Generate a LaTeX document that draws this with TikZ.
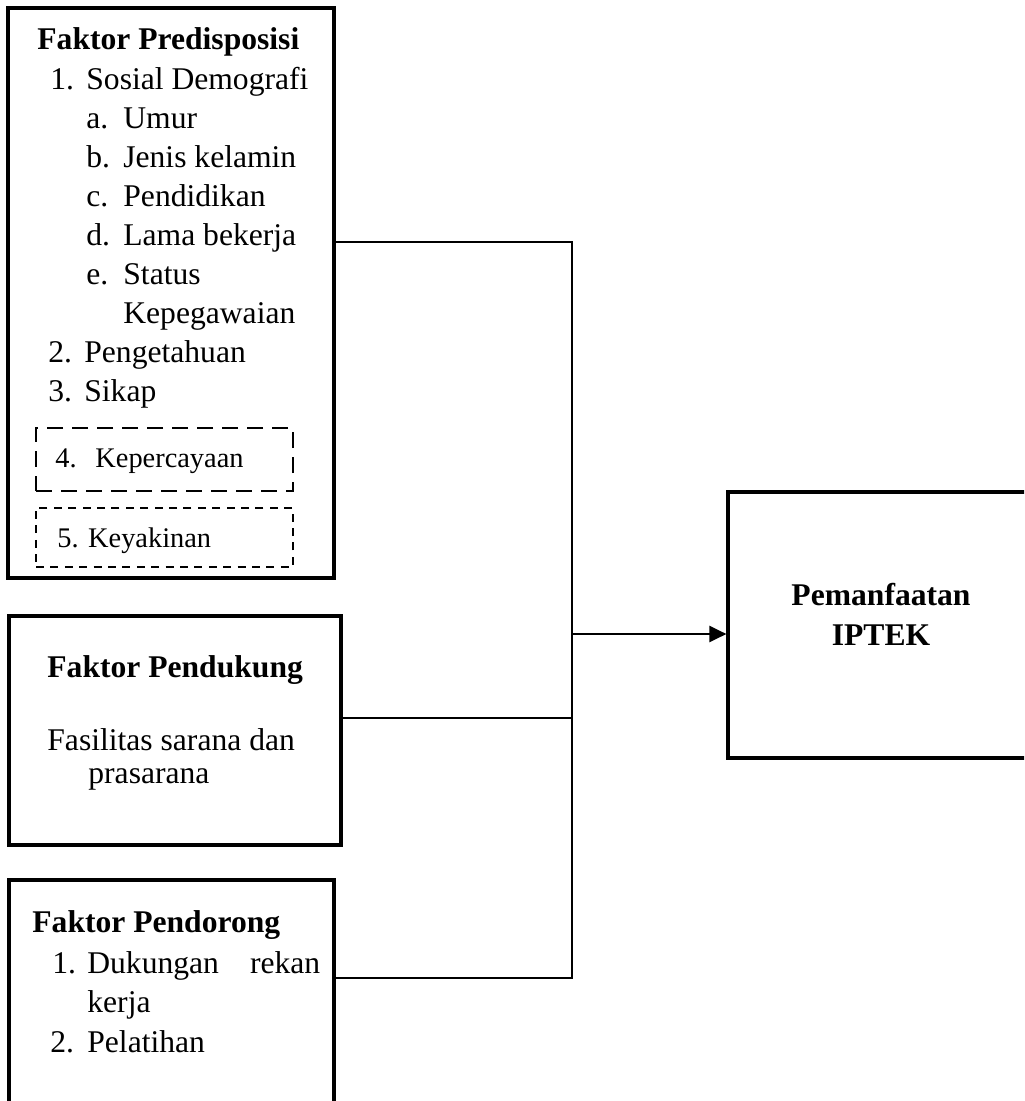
\documentclass[tikz,border=0pt]{standalone}
\usepackage{fontspec}
\setmainfont{Liberation Serif}
\usetikzlibrary{arrows.meta}
\newcommand{\lbl}[2][18pt]{\makebox[#1][l]{#2}}

\begin{document}
\begin{tikzpicture}[x=0.5pt,y=-0.5pt,
    box/.style={draw,line width=1.6pt,inner sep=0pt},
    dashbox/.style={draw,line width=1.4pt,inner sep=0pt,dash pattern=on 8pt off 4.5pt},
    dotbox/.style={draw,line width=1.4pt,inner sep=0pt,dash pattern=on 4pt off 3.2pt},
    txt/.style={anchor=base west,inner sep=0pt,font=\fontsize{15.8}{19}\selectfont},
    ttl/.style={txt,font=\fontsize{15.8}{19}\selectfont\bfseries},
    sml/.style={txt,font=\fontsize{14.2}{17}\selectfont},
    conn/.style={line width=1.2pt}]
    \useasboundingbox (0,0) rectangle (1024,1101);
    \clip (0,0) rectangle (1024,1101);

    % boxes
    \path (171,293) node[box,minimum width=163pt,minimum height=285pt] (pred) {}
    (164.5,459.5) node[dashbox,minimum width=128.5pt,minimum height=31.5pt] (yakin4) {}
    (164.5,537.5) node[dotbox,minimum width=128.5pt,minimum height=29.5pt] (yakin5) {}
    (175,730.5) node[box,minimum width=166pt,minimum height=114.5pt] (dukung) {}
    (171.5,1000) node[box,minimum width=162.5pt,minimum height=120pt] (dorong) {}
    (881,625) node[box,minimum width=153pt,minimum height=133pt] (iptek) {};

    % Faktor Predisposisi
    \path (37,50) node[ttl] (p0) {Faktor Predisposisi}
    (50,90) node[txt] (p1) {\lbl{1.}Sosial Demografi}
    (86,128.9) node[txt] (p1a) {\lbl[18.5pt]{a.}Umur}
    (86,167.8) node[txt] (p1b) {\lbl[18.5pt]{b.}Jenis kelamin}
    (86,206.7) node[txt] (p1c) {\lbl[18.5pt]{c.}Pendidikan}
    (86,245.6) node[txt] (p1d) {\lbl[18.5pt]{d.}Lama bekerja}
    (86,284.5) node[txt] (p1e) {\lbl[18.5pt]{e.}Status}
    (123,323.4) node[txt] (p1e2) {Kepegawaian}
    (48,362.3) node[txt] (p2) {\lbl{2.}Pengetahuan}
    (48,401.2) node[txt] (p3) {\lbl{3.}Sikap}
    (55,467) node[sml] (p4) {\lbl[20pt]{4.}Kepercayaan}
    (57,547) node[sml] (p5) {5. Keyakinan};

    % Faktor Pendukung
    \path (47,677) node[ttl] (d0) {Faktor Pendukung}
    (47,750) node[txt] (d1) {Fasilitas sarana dan}
    (88,783) node[txt] (d2) {prasarana};

    % Faktor Pendorong
    \path (32,932) node[ttl] (r0) {Faktor Pendorong}
    (52,973) node[txt] (r1) {\lbl[17.5pt]{1.}Dukungan\hspace{15.5pt}rekan}
    (87,1012) node[txt] (r1b) {kerja}
    (50,1052) node[txt] (r2) {\lbl[18.5pt]{2.}Pelatihan};

    % Pemanfaatan IPTEK
    \path (881,605) node[ttl,anchor=base] (i1) {Pemanfaatan}
    (881,645) node[ttl,anchor=base] (i2) {IPTEK};

    % connectors
    \coordinate (b1) at (572,242);
    \coordinate (b2) at (572,718);
    \coordinate (b3) at (572,978);
    \coordinate (b0) at (572,634);
    \draw[conn] (b1 -| pred.east) -- (b1) -- (b3) -- (b3 -| dorong.east)
    (b2 -| dukung.east) -- (b2);
    \draw[conn,-{Triangle[length=8.5pt,width=8pt]}] (b0) -- (b0 -| iptek.west);
\end{tikzpicture}
\end{document}
